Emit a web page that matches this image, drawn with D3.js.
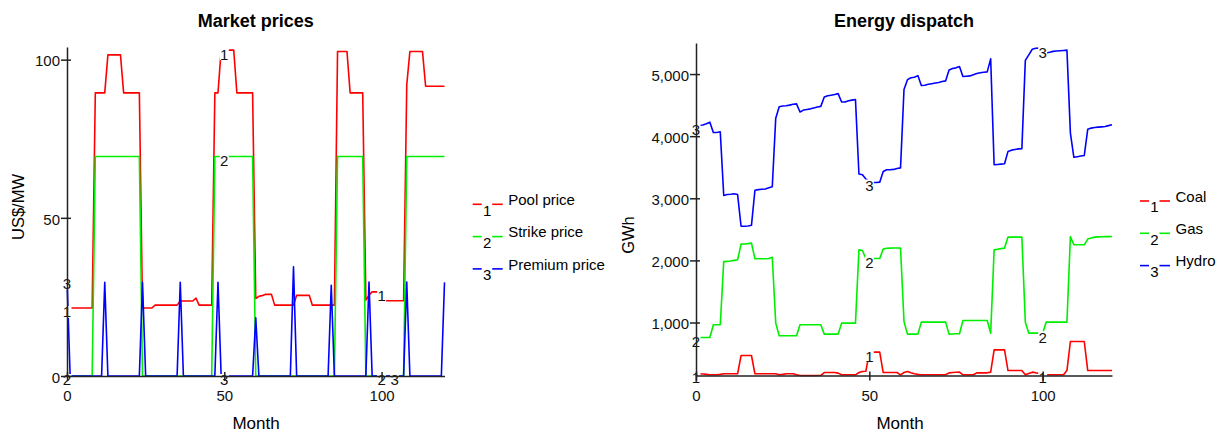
<!DOCTYPE html>
<html>
<head>
<meta charset="utf-8">
<script src="https://cdn.jsdelivr.net/npm/d3@7"></script>
<style>
  body { margin: 0; background: #fff; }
  svg text { font-family: Arial, "Liberation Sans", sans-serif; }
</style>
</head>
<body>
<svg id="chart" width="1224" height="432"></svg>
<script>
// months on the x axis
var months = d3.range(0, 121);

// Market prices (US$/MW)
var poolPrice = [
  21.5,21.5,21.5,21.5,21.5,21.5,21.5,21.5,21.5,89.5,
  89.5,89.5,89.5,101.5,101.5,101.5,101.5,101.5,89.5,89.5,
  89.5,89.5,89.5,89.5,21.5,21.5,21.5,21.5,22.4,22.4,
  22.4,22.4,22.4,22.4,22.4,22.4,23.7,23.7,23.7,23.7,
  23.7,24.6,22.4,22.4,22.4,22.4,22.4,89.5,89.5,103,
  103,103,103,103,89.5,89.5,89.5,89.5,89.5,89.5,
  24.5,25.2,25.4,25.8,25.8,25.8,22.4,22.4,22.4,22.4,
  22.4,22.4,22.4,25.5,25.5,25.5,25.5,25.5,22.4,22.4,
  22.4,22.4,22.4,22.4,22.4,22.4,102.6,102.6,102.6,102.6,
  89.5,89.5,89.5,89.5,89.5,24,25.5,26.6,26.6,26.6,
  26.6,23.8,23.8,23.8,23.8,23.8,23.8,23.8,92,102.6,
  102.6,102.6,102.6,102.6,91.6,91.6,91.6,91.6,91.6,91.6,
  91.6
];
var strikePrice = [
  0,0,0,0,0,0,0,0,0,69.4,
  69.4,69.4,69.4,69.4,69.4,69.4,69.4,69.4,69.4,69.4,
  69.4,69.4,69.4,69.4,0,0,0,0,0,0,
  0,0,0,0,0,0,0,0,0,0,
  0,0,0,0,0,0,0,69.4,69.4,69.4,
  69.4,69.4,69.4,69.4,69.4,69.4,69.4,69.4,69.4,69.4,
  0,0,0,0,0,0,0,0,0,0,
  0,0,0,0,0,0,0,0,0,0,
  0,0,0,0,0,0,69.4,69.4,69.4,69.4,
  69.4,69.4,69.4,69.4,69.4,0,0,0,0,0,
  0,0,0,0,0,0,0,0,69.4,69.4,
  69.4,69.4,69.4,69.4,69.4,69.4,69.4,69.4,69.4,69.4,
  69.4
];
var premiumPrice = [
  30.5,0,0,0,0,0,0,0,0,0,
  0,0,29.6,0,0,0,0,0,0,0,
  0,0,0,0,29.6,0,0,0,0,0,
  0,0,0,0,0,0,29.6,0,0,0,
  0,0,0,0,0,0,0,0,29.6,0,
  0,0,0,0,0,0,0,0,0,0,
  18.4,0,0,0,0,0,0,0,0,0,
  0,0,34.5,0,0,0,0,0,0,0,
  0,0,0,0,28.7,0,0,0,0,0,
  0,0,0,0,0,0,29.7,0,0,0,
  0,0,0,0,0,0,0,0,29.7,0,
  0,0,0,0,0,0,0,0,0,0,
  29.6
];

// Energy dispatch (GWh)
var coal = [
  174,174,170,165,160,158,158,165,174,174,
  174,174,174,469,469,469,469,174,174,174,
  174,174,174,174,158,165,174,174,174,160,
  147,147,147,147,147,147,150,195,195,195,
  195,185,158,158,158,158,158,195,211,215,
  523,523,523,523,195,195,195,195,195,158,
  195,211,190,174,165,158,158,158,158,158,
  158,158,158,190,195,200,201,158,158,158,
  158,190,190,190,190,201,560,560,560,560,
  227,227,227,227,227,158,180,201,190,185,
  170,158,158,158,158,158,158,227,694,694,
  694,694,694,227,227,227,227,227,227,227,
  227
];
var gas = [
  758,758,758,758,758,963,963,963,1980,1985,
  1990,2000,2010,2262,2265,2270,2278,2026,2026,2026,
  2026,2030,2050,990,786,786,786,786,786,786,
  963,963,963,963,963,963,963,813,813,813,
  813,813,990,990,990,990,990,2170,2160,2030,
  2030,2030,2030,2030,2182,2195,2198,2200,2200,2198,
  1016,813,813,813,813,1006,1006,1006,1006,1006,
  1006,1006,1006,813,815,818,820,1032,1032,1032,
  1032,1032,1032,1032,1032,829,2170,2180,2190,2198,
  2375,2375,2375,2375,2375,1006,829,829,829,829,
  829,1006,1006,1006,1006,1006,1006,1006,2385,2251,
  2251,2251,2251,2343,2360,2375,2378,2380,2382,2383,
  2385
];
var hydro = [
  4170,4175,4180,4200,4225,4060,4060,4070,3045,3060,
  3065,3072,3060,2550,2550,2555,2565,3130,3140,3145,
  3150,3170,3185,4290,4475,4485,4490,4500,4515,4520,
  4390,4420,4430,4440,4455,4470,4480,4630,4650,4660,
  4670,4685,4550,4550,4570,4580,4590,3390,3380,3310,
  3270,3255,3255,3260,3430,3460,3460,3465,3480,3490,
  4750,4910,4940,4950,4975,4815,4820,4835,4845,4855,
  4865,4880,4890,5065,5090,5100,5120,4960,4965,4970,
  4990,5010,5020,5030,5035,5245,3540,3545,3550,3555,
  3755,3775,3785,3795,3800,5220,5310,5400,5415,5420,
  5410,5340,5350,5365,5370,5375,5380,5385,4050,3660,
  3670,3680,3690,4110,4130,4140,4145,4150,4155,4170,
  4185
];

var priceNames = ["Pool price", "Strike price", "Premium price"];
var energyNames = ["Coal", "Gas", "Hydro"];
var colors = ["#ff0000", "#00ee00", "#0000ff"];
var labelMonths = [0, 50, 100];
var xTicks = [0, 50, 100];

var svg = d3.select("#chart");

function drawChart(cfg) {
  var g = svg.append("g");

  var x = d3.scaleLinear()
    .domain([0, 120])
    .range([cfg.left, cfg.right]);
  var y = d3.scaleLinear()
    .domain(cfg.yDomain)
    .range([cfg.bottom, cfg.top]);

  var line = d3.line()
    .x(function (d, i) { return x(months[i]); })
    .y(function (d) { return y(d); });

  // series lines
  cfg.series.forEach(function (s, k) {
    g.append("path")
      .datum(s)
      .attr("d", line)
      .attr("fill", "none")
      .attr("stroke", colors[k])
      .attr("stroke-width", 1.6)
      .attr("stroke-linejoin", "round");
  });

  // numbered line markers (1, 2, 3) with a white gap behind them
  var placed = [];
  labelMonths.forEach(function (m) {
    cfg.series.forEach(function (s, k) {
      var px = x(m), py = y(s[m]) + 4;
      placed.forEach(function (p) {
        if (Math.abs(p[0] - px) < 9 && Math.abs(p[1] - py) < 11) px += 13;
      });
      placed.push([px, py]);
      g.append("rect")
        .attr("x", px - 4.5).attr("y", py - 6)
        .attr("width", 9).attr("height", 12)
        .attr("fill", "#fff");
      g.append("text")
        .attr("x", px).attr("y", py)
        .attr("dy", "0.36em")
        .attr("text-anchor", "middle")
        .style("font-size", "15px")
        .style("fill", "#111")
        .text(k + 1);
    });
  });

  // y axis, ticks cross the axis line
  var yAxis = g.append("g")
    .attr("transform", "translate(" + cfg.left + ",0)")
    .call(d3.axisLeft(y).tickValues(cfg.yTicks).tickFormat(d3.format(",")).tickSize(6).tickSizeOuter(0).tickPadding(1));
  yAxis.selectAll(".tick line").attr("x1", 4);
  yAxis.selectAll(".tick text").attr("dy", "0.42em");

  // x axis
  var xAxis = g.append("g")
    .attr("transform", "translate(0," + cfg.bottom + ")")
    .call(d3.axisBottom(x).tickValues(xTicks).tickSize(5).tickSizeOuter(0).tickPadding(9.5));
  xAxis.selectAll(".tick line").attr("y1", -4);

  [yAxis, xAxis].forEach(function (a) {
    a.select(".domain").attr("stroke", "#222").attr("stroke-width", 1.5);
    a.selectAll(".tick line").attr("stroke", "#222").attr("stroke-width", 1.5);
    a.selectAll(".tick text")
      .style("font-size", "15px")
      .style("font-family", "Arial, 'Liberation Sans', sans-serif")
      .style("fill", "#111");
  });

  // title
  g.append("text")
    .attr("x", (cfg.left + cfg.right) / 2)
    .attr("y", 27)
    .attr("text-anchor", "middle")
    .style("font-size", "18px")
    .style("font-weight", "bold")
    .text(cfg.title);

  // axis titles
  g.append("text")
    .attr("x", cfg.monthX)
    .attr("y", 429)
    .attr("text-anchor", "middle")
    .style("font-size", "17px")
    .text("Month");
  g.append("text")
    .attr("transform", "translate(" + cfg.yLabelX + "," + cfg.yLabelY + ") rotate(-90)")
    .attr("text-anchor", "middle")
    .style("font-size", "16.5px")
    .text(cfg.yLabel);

  // legend
  var leg = g.append("g");
  cfg.names.forEach(function (name, k) {
    var ly = cfg.legendY + k * 32.3;
    var L = cfg.legendX;
    leg.append("line")
      .attr("x1", L).attr("x2", L + 9).attr("y1", ly).attr("y2", ly)
      .attr("stroke", colors[k]).attr("stroke-width", 1.6);
    leg.append("line")
      .attr("x1", L + 19.5).attr("x2", L + 30).attr("y1", ly).attr("y2", ly)
      .attr("stroke", colors[k]).attr("stroke-width", 1.6);
    leg.append("text")
      .attr("x", L + 14.5).attr("y", ly + 6)
      .attr("dy", "0.36em")
      .attr("text-anchor", "middle")
      .style("font-size", "15px")
      .text(k + 1);
    leg.append("text")
      .attr("x", L + 35.5).attr("y", ly + 0.7)
      .style("font-size", "15px")
      .text(name);
  });
}

drawChart({
  title: "Market prices",
  left: 67, right: 444.5, top: 47, bottom: 376,
  yDomain: [0, 104],
  yTicks: [0, 50, 100],
  series: [poolPrice, strikePrice, premiumPrice],
  names: priceNames,
  yLabel: "US$/MW", yLabelX: 24, yLabelY: 207,
  monthX: 256,
  legendX: 472.7, legendY: 204.3
});

drawChart({
  title: "Energy dispatch",
  left: 696, right: 1112, top: 43, bottom: 375.5,
  yDomain: [147, 5500],
  yTicks: [1000, 2000, 3000, 4000, 5000],
  series: [coal, gas, hydro],
  names: energyNames,
  yLabel: "GWh", yLabelX: 634, yLabelY: 235,
  monthX: 900,
  legendX: 1140, legendY: 201
});
</script>
</body>
</html>
